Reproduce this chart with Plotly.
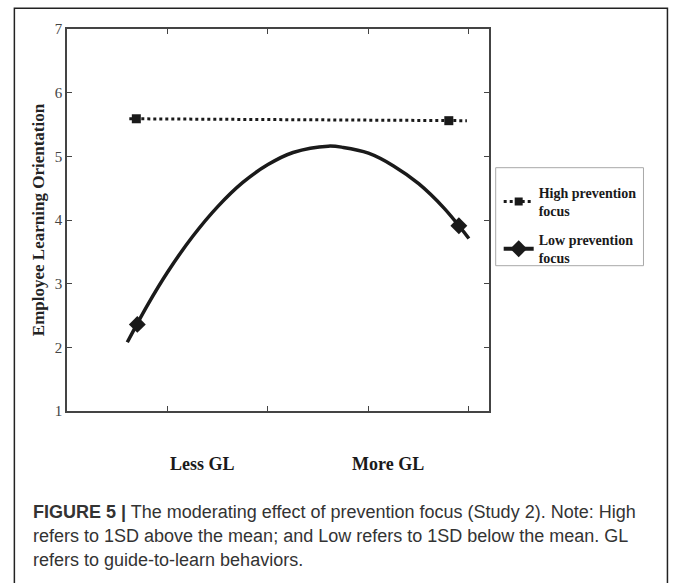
import plotly.graph_objects as go

# Data; x axis: 0..4.2 with GL positions
high_line_x = [0.62, 3.98]
high_line_y = [5.59, 5.56]
high_mark_x = [0.69, 3.80]
high_mark_y = [5.59, 5.56]

low_curve_x = [0.60, 0.8, 1.0, 1.25, 1.5, 1.75, 2.0, 2.25, 2.6, 2.75, 3.0, 3.25, 3.5, 3.75, 4.0]
low_curve_y = [2.08, 2.66, 3.18, 3.74, 4.21, 4.59, 4.87, 5.06, 5.16, 5.14, 5.05, 4.85, 4.57, 4.19, 3.71]
low_mark_x = [0.70, 3.90]
low_mark_y = [2.36, 3.91]

y_ticks = [1, 2, 3, 4, 5, 6, 7]
x_ticks = [1, 2, 3, 4]
cat_labels = ["Less GL", "More GL"]
cat_pos = [1.345, 3.19]

W, H = 673, 583
L, R, T, B = 66.7, 489.3, 29.3, 411.3

def px(x):
    return (x - L) / (R - L)

def py(y):
    return (B - y) / (B - T)

SERIF = "Liberation Serif"
SANS = "Liberation Sans"

fig = go.Figure()
fig.add_trace(go.Scatter(x=high_line_x, y=high_line_y, mode="lines",
                         line=dict(color="#1a1a1a", width=3, dash="dot"), showlegend=False))
fig.add_trace(go.Scatter(x=high_mark_x, y=high_mark_y, mode="markers",
                         marker=dict(symbol="square", size=9, color="#1a1a1a"), showlegend=False))
fig.add_trace(go.Scatter(x=low_curve_x, y=low_curve_y, mode="lines", line_shape="spline",
                         line=dict(color="#1a1a1a", width=3.5), showlegend=False))
fig.add_trace(go.Scatter(x=low_mark_x, y=low_mark_y, mode="markers",
                         marker=dict(symbol="diamond", size=13, color="#1a1a1a"), showlegend=False))
# legend entries
fig.add_trace(go.Scatter(x=[None], y=[None], mode="lines+markers", name="<b>High prevention<br>focus</b>",
                         legendgroup="high",
                         line=dict(color="#1a1a1a", width=3, dash="dot"),
                         marker=dict(symbol="square", size=8, color="#1a1a1a")))
fig.add_trace(go.Scatter(x=[None], y=[None], mode="lines+markers", name="<b>Low prevention<br>focus</b>",
                         legendgroup="low",
                         line=dict(color="#1a1a1a", width=4),
                         marker=dict(symbol="diamond", size=13, color="#1a1a1a")))

fig.update_layout(
    width=W, height=H,
    margin=dict(l=L, r=W - R, t=T, b=H - B),
    plot_bgcolor="white", paper_bgcolor="white",
    showlegend=True,
    legend=dict(x=px(499), y=py(177), xanchor="left", yanchor="top",
                borderwidth=0, bgcolor="rgba(0,0,0,0)",
                font=dict(family=SERIF, size=14, color="#1a1a1a"),
                tracegroupgap=8, itemwidth=30),
    xaxis=dict(range=[0, 4.2], tickvals=x_ticks, showticklabels=False,
               ticks="inside", ticklen=5, tickcolor="#444", showgrid=False, zeroline=False,
               showline=True, linecolor="#444", linewidth=1.5, mirror="ticks"),
    yaxis=dict(range=[1, 7], tickvals=y_ticks, ticks="inside", ticklen=5, tickcolor="#444",
               showgrid=False, zeroline=False, showline=True, linecolor="#444", linewidth=1.5,
               mirror="ticks", tickfont=dict(family=SERIF, size=15, color="#444"),
               title=dict(text="<b>Employee Learning Orientation</b>", standoff=6,
                          font=dict(family=SERIF, size=17, color="#222"))),
)

# legend frame
fig.add_shape(type="rect", xref="paper", yref="paper", x0=px(496), x1=px(644), y0=py(266), y1=py(168),
              line=dict(color="#a8a8a8", width=1), fillcolor="rgba(0,0,0,0)")

for lab, pos in zip(cat_labels, cat_pos):
    fig.add_annotation(x=pos, y=py(464), xref="x", yref="paper", text="<b>" + lab + "</b>",
                       showarrow=False, font=dict(family=SERIF, size=18, color="#1a1a1a"),
                       xanchor="center", yanchor="middle")

caption = [
    "<b>FIGURE 5 |</b> The moderating effect of prevention focus (Study 2). Note: High",
    "refers to 1SD above the mean; and Low refers to 1SD below the mean. GL",
    "refers to guide-to-learn behaviors.",
]
for i, line in enumerate(caption):
    fig.add_annotation(x=px(31), y=py(512 + 24 * i), xref="paper", yref="paper", text=line,
                       showarrow=False, font=dict(family=SANS, size=18, color="#333"),
                       xanchor="left", yanchor="middle")

# outer frame of the figure panel
fig.add_shape(type="rect", xref="paper", yref="paper", x0=px(14), x1=px(668), y0=py(600), y1=py(8.5),
              line=dict(color="#222", width=1.5), fillcolor="rgba(0,0,0,0)", layer="below")

fig.write_html("out.html")
